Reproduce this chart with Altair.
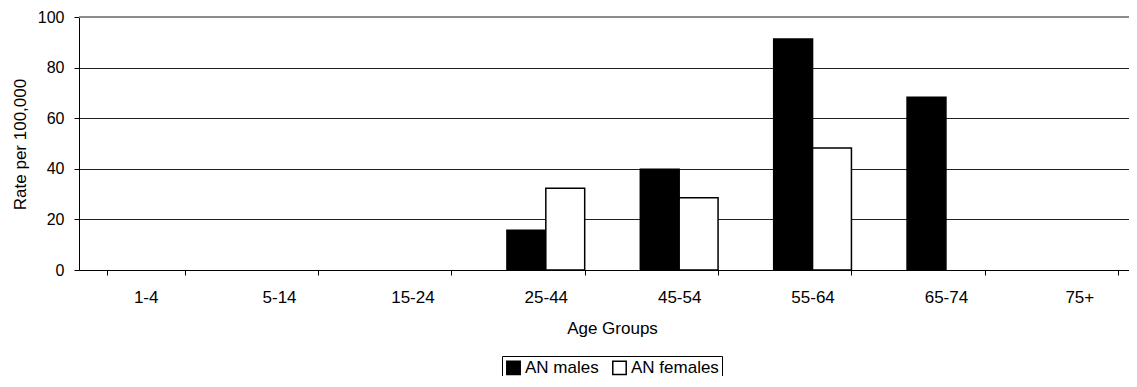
import altair as alt
import pandas as pd

ages = ["1-4", "5-14", "15-24", "25-44", "45-54", "55-64", "65-74", "75+"]
males = [0, 0, 0, 15.7, 39.8, 91.3, 68.3, 0]
females = [0, 0, 0, 32.3, 28.6, 48.2, 0, 0]
series = ["AN males", "AN females"]
y_ticks = [0, 20, 40, 60, 80, 100]

rows = []
for a, m, f in zip(ages, males, females):
    rows.append({"age": a, "series": series[0], "rate": m})
    rows.append({"age": a, "series": series[1], "rate": f})
df = pd.DataFrame(rows)

FONT = "Liberation Sans"
FS = 17

bars = alt.Chart(df).mark_bar(stroke="black").encode(
    x=alt.X(
        "age:N", sort=ages,
        scale=alt.Scale(paddingInner=0.417, paddingOuter=0.2085, range=[0, 1067]),
        axis=alt.Axis(
            title="Age Groups", labelAngle=0, tickBand="extent", ticks=True,
            tickSize=5, tickColor="black", domainColor="black",
            labelBaseline="alphabetic", labelPadding=27,
            titleBaseline="alphabetic", titleY=63, titleX=533,
            labelFontSize=FS, titleFontSize=FS,
            titleFontWeight="normal", labelColor="black", titleColor="black",
            labelFont=FONT, titleFont=FONT,
        ),
    ),
    xOffset=alt.XOffset("series:N", sort=series),
    y=alt.Y(
        "rate:Q", scale=alt.Scale(domain=[0, 100], nice=False),
        axis=alt.Axis(
            title="Rate per 100,000", values=y_ticks, grid=True, gridColor="#222222",
            gridOpacity=1, tickSize=5, tickColor="black", domainColor="black",
            labelPadding=10, labelFontSize=16, titleFontSize=FS, titleFontWeight="normal",
            labelColor="black", titleColor="black", titleX=-59, titleY=127,
            titleBaseline="middle", titleAlign="center", labelFont=FONT, titleFont=FONT,
        ),
    ),
    strokeWidth=alt.condition("datum.rate > 0", alt.value(1.5), alt.value(0)),
    color=alt.Color(
        "series:N", sort=series,
        scale=alt.Scale(domain=series, range=["black", "white"]),
        legend=alt.Legend(
            title=None, orient="none", legendX=423, legendY=339, direction="horizontal",
            strokeColor="black", padding=3, symbolType="square", symbolSize=180,
            symbolStrokeColor="black", symbolStrokeWidth=1.5, labelFontSize=FS,
            labelFont=FONT, labelColor="black", columnPadding=10, labelOffset=3,
        ),
    ),
)

top_rule = alt.Chart(df).mark_rule(color="#8c8c8c", strokeWidth=2).encode(y=alt.datum(100))

chart = alt.layer(bars, top_rule).properties(
    width=1050, height=253,
    autosize=alt.AutoSizeParams(type="none"),
    padding={"left": 71, "top": 9, "right": 0, "bottom": 106},
    background="white",
).configure_view(stroke=None)

chart.save("out.html", embed_options={"renderer": "svg", "actions": False})
